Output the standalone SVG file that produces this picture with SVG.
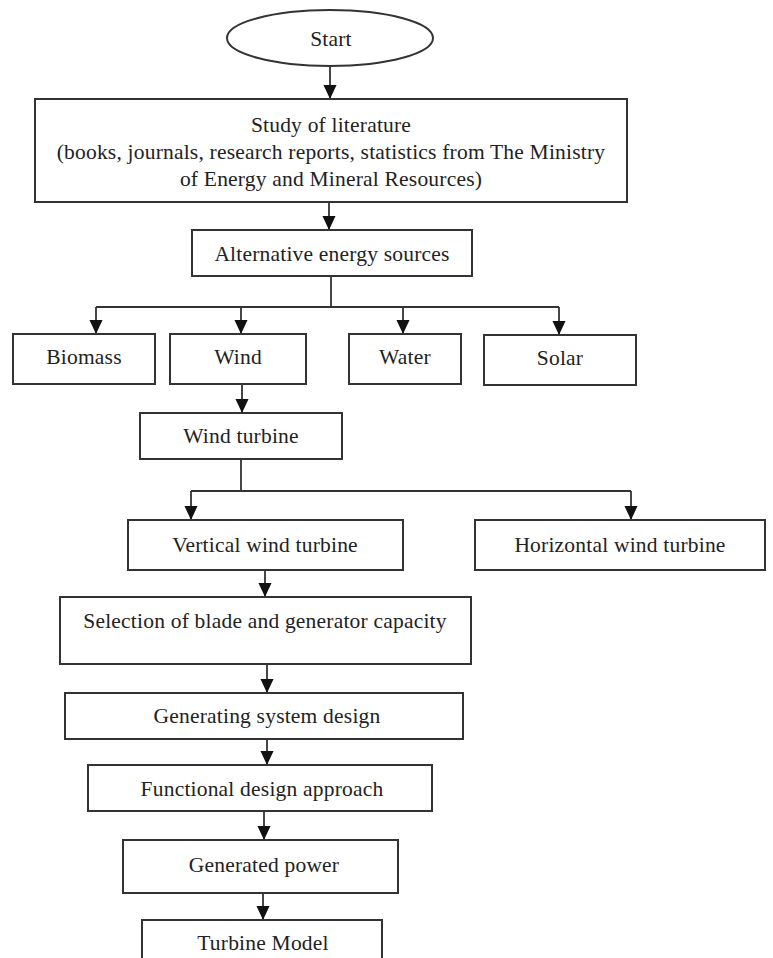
<svg xmlns="http://www.w3.org/2000/svg" width="773" height="958" viewBox="0 0 773 958">
<style>
.box{fill:#fff;stroke:#333;stroke-width:2}
.t{font-family:"Liberation Serif","Times New Roman",serif;font-size:21.5px;letter-spacing:0.2px;fill:#222;text-anchor:middle}
.c{fill:none;stroke:#333;stroke-width:1.8}
</style>
<defs>
<marker id="a" markerUnits="userSpaceOnUse" markerWidth="14" markerHeight="15" refX="15" refY="7" orient="auto" viewBox="0 0 15 14">
<path d="M0,0 L15,7 L0,14 Z" fill="#111"/>
</marker>
</defs>
<rect width="773" height="958" fill="#fff"/>
<g id="connectors">
<path class="c" d="M330,67 V99" marker-end="url(#a)"/>
<path class="c" d="M329,202 V230" marker-end="url(#a)"/>
<path class="c" d="M331,276 V307"/>
<path class="c" d="M96,307 H559"/>
<path class="c" d="M96,307 V334" marker-end="url(#a)"/>
<path class="c" d="M241,307 V334" marker-end="url(#a)"/>
<path class="c" d="M403,307 V334" marker-end="url(#a)"/>
<path class="c" d="M559,307 V335" marker-end="url(#a)"/>
<path class="c" d="M242,384 V413" marker-end="url(#a)"/>
<path class="c" d="M241,459 V491"/>
<path class="c" d="M191,491 H631"/>
<path class="c" d="M191,491 V520" marker-end="url(#a)"/>
<path class="c" d="M631,491 V520" marker-end="url(#a)"/>
<path class="c" d="M265,570 V597" marker-end="url(#a)"/>
<path class="c" d="M267,664 V693" marker-end="url(#a)"/>
<path class="c" d="M267,739 V765" marker-end="url(#a)"/>
<path class="c" d="M264,811 V840" marker-end="url(#a)"/>
<path class="c" d="M263,893 V920" marker-end="url(#a)"/>
</g>
<g id="start"><ellipse class="box" cx="330" cy="38" rx="103" ry="28"/><text class="t" x="331" y="46">Start</text></g>
<g id="study"><rect class="box" x="35" y="99" width="592" height="103"/>
<text class="t" x="331" y="132">Study of literature</text>
<text class="t" x="331" y="159">(books, journals, research reports, statistics from The Ministry</text>
<text class="t" x="331" y="186">of Energy and Mineral Resources)</text></g>
<g id="alt"><rect class="box" x="192" y="230" width="280" height="46"/><text class="t" x="332" y="261">Alternative energy sources</text></g>
<g id="biomass"><rect class="box" x="13" y="334" width="142" height="50"/><text class="t" x="84" y="364">Biomass</text></g>
<g id="wind"><rect class="box" x="170" y="334" width="136" height="50"/><text class="t" x="238" y="364">Wind</text></g>
<g id="water"><rect class="box" x="349" y="334" width="112" height="50"/><text class="t" x="405" y="364">Water</text></g>
<g id="solar"><rect class="box" x="484" y="335" width="152" height="50"/><text class="t" x="560" y="365">Solar</text></g>
<g id="windturbine"><rect class="box" x="140" y="413" width="202" height="46"/><text class="t" x="241" y="443">Wind turbine</text></g>
<g id="vertical"><rect class="box" x="128" y="520" width="275" height="50"/><text class="t" x="265" y="552">Vertical wind turbine</text></g>
<g id="horizontal"><rect class="box" x="475" y="520" width="290" height="50"/><text class="t" x="620" y="552">Horizontal wind turbine</text></g>
<g id="selection"><rect class="box" x="60" y="597" width="411" height="67"/><text class="t" x="265" y="628">Selection of blade and generator capacity</text></g>
<g id="gsd"><rect class="box" x="65" y="693" width="398" height="46"/><text class="t" x="267" y="723">Generating system design</text></g>
<g id="fda"><rect class="box" x="88" y="765" width="344" height="46"/><text class="t" x="262" y="796">Functional design approach</text></g>
<g id="power"><rect class="box" x="123" y="840" width="275" height="53"/><text class="t" x="264" y="872">Generated power</text></g>
<g id="model"><rect class="box" x="142" y="920" width="240" height="50"/><text class="t" x="263" y="950">Turbine Model</text></g>
</svg>
